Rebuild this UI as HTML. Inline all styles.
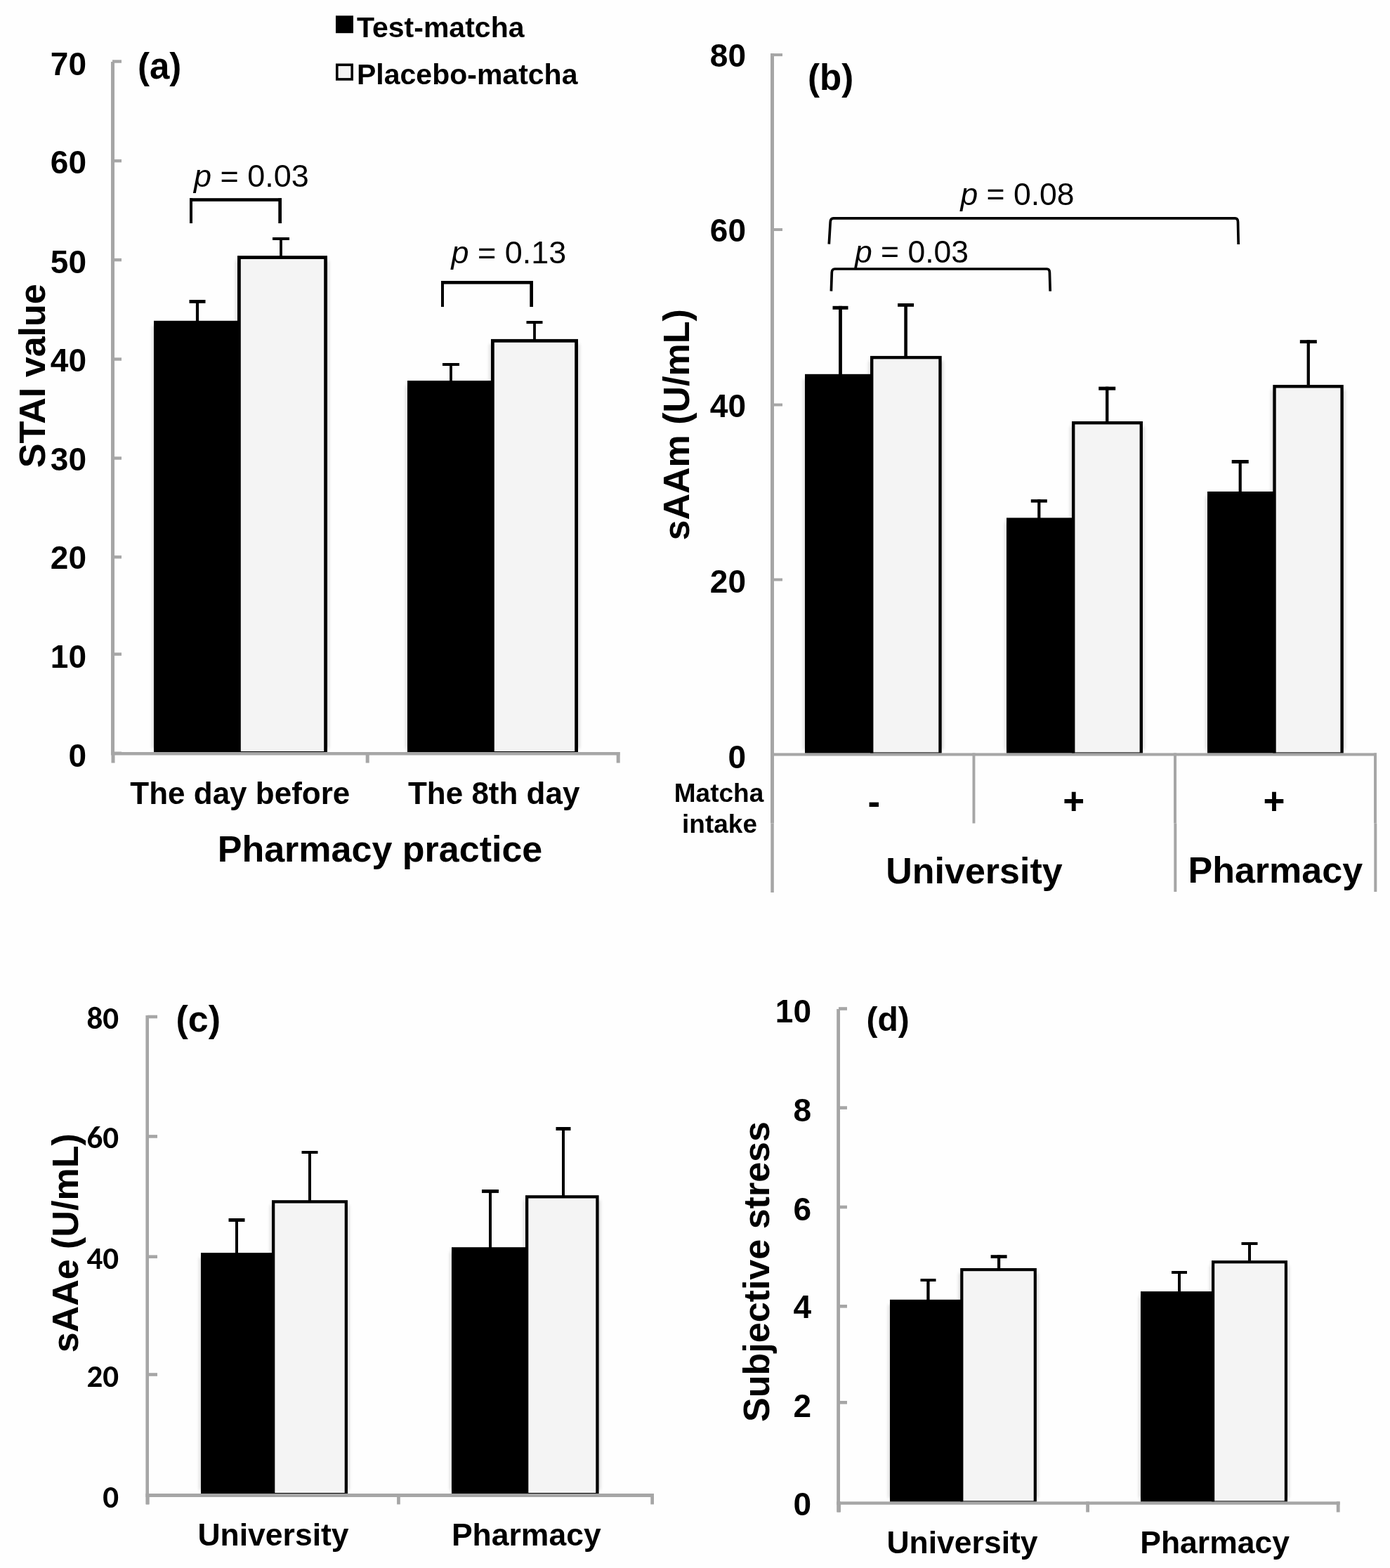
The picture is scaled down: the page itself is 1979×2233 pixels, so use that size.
<!DOCTYPE html>
<html><head><meta charset="utf-8"><title>Figure</title>
<style>
html,body{margin:0;padding:0;background:#fefefe;}
svg{display:block;}
text{fill:#000;}
</style></head>
<body>
<svg width="1979" height="2233" viewBox="0 0 1979 2233">
<defs><filter id="sh" x="-10%" y="-10%" width="120%" height="120%"><feGaussianBlur stdDeviation="2.2"/></filter></defs>
<rect x="0" y="0" width="1979" height="2233" fill="#fefefe"/>
<rect x="216.5" y="463.8" width="129.0" height="602.2" fill="#000" opacity="0.13" filter="url(#sh)"/>
<rect x="335.5" y="371.2" width="133.0" height="694.8" fill="#000" opacity="0.13" filter="url(#sh)"/>
<rect x="577.5" y="549.1" width="129.0" height="516.9" fill="#000" opacity="0.13" filter="url(#sh)"/>
<rect x="696.5" y="489.9" width="129.0" height="576.1" fill="#000" opacity="0.13" filter="url(#sh)"/>
<rect x="1143.5" y="539.8" width="102.5" height="527.6" fill="#000" opacity="0.13" filter="url(#sh)"/>
<rect x="1236.5" y="513.9" width="106.7" height="553.5" fill="#000" opacity="0.13" filter="url(#sh)"/>
<rect x="1430.5" y="744.4" width="102.0" height="323.0" fill="#000" opacity="0.13" filter="url(#sh)"/>
<rect x="1523.5" y="607.0" width="106.0" height="460.4" fill="#000" opacity="0.13" filter="url(#sh)"/>
<rect x="1716.5" y="707.0" width="102.6" height="360.4" fill="#000" opacity="0.13" filter="url(#sh)"/>
<rect x="1809.8" y="555.1" width="105.5" height="512.3" fill="#000" opacity="0.13" filter="url(#sh)"/>
<rect x="283.5" y="1791.1" width="109.0" height="330.9" fill="#000" opacity="0.13" filter="url(#sh)"/>
<rect x="384.5" y="1716.2" width="113.0" height="405.8" fill="#000" opacity="0.13" filter="url(#sh)"/>
<rect x="640.5" y="1783.2" width="114.0" height="338.8" fill="#000" opacity="0.13" filter="url(#sh)"/>
<rect x="745.5" y="1709.2" width="109.6" height="412.8" fill="#000" opacity="0.13" filter="url(#sh)"/>
<rect x="1264.5" y="1857.8" width="109.0" height="275.6" fill="#000" opacity="0.13" filter="url(#sh)"/>
<rect x="1364.7" y="1813.0" width="113.7" height="320.4" fill="#000" opacity="0.13" filter="url(#sh)"/>
<rect x="1621.5" y="1846.1" width="110.0" height="287.3" fill="#000" opacity="0.13" filter="url(#sh)"/>
<rect x="1722.5" y="1802.1" width="113.0" height="331.3" fill="#000" opacity="0.13" filter="url(#sh)"/>
<rect x="158.0" y="88.0" width="5.0" height="986.0" fill="#a6a6a6"/>
<rect x="160.0" y="1070.5" width="13.0" height="4.4" fill="#a6a6a6"/>
<text x="123.0" y="1092.2" font-size="46" font-weight="bold" text-anchor="end" font-family='"Liberation Sans", Arial, sans-serif' >0</text>
<rect x="160.0" y="929.4" width="13.0" height="4.4" fill="#a6a6a6"/>
<text x="123.0" y="950.8" font-size="46" font-weight="bold" text-anchor="end" font-family='"Liberation Sans", Arial, sans-serif' >10</text>
<rect x="160.0" y="791.1" width="13.0" height="4.4" fill="#a6a6a6"/>
<text x="123.0" y="810.3" font-size="46" font-weight="bold" text-anchor="end" font-family='"Liberation Sans", Arial, sans-serif' >20</text>
<rect x="160.0" y="650.3" width="13.0" height="4.4" fill="#a6a6a6"/>
<text x="123.0" y="670.3" font-size="46" font-weight="bold" text-anchor="end" font-family='"Liberation Sans", Arial, sans-serif' >30</text>
<rect x="160.0" y="509.3" width="13.0" height="4.4" fill="#a6a6a6"/>
<text x="123.0" y="528.8" font-size="46" font-weight="bold" text-anchor="end" font-family='"Liberation Sans", Arial, sans-serif' >40</text>
<rect x="160.0" y="367.9" width="13.0" height="4.4" fill="#a6a6a6"/>
<text x="123.0" y="389.1" font-size="46" font-weight="bold" text-anchor="end" font-family='"Liberation Sans", Arial, sans-serif' >50</text>
<rect x="160.0" y="226.9" width="13.0" height="4.4" fill="#a6a6a6"/>
<text x="123.0" y="247.2" font-size="46" font-weight="bold" text-anchor="end" font-family='"Liberation Sans", Arial, sans-serif' >60</text>
<rect x="160.0" y="85.3" width="13.0" height="4.4" fill="#a6a6a6"/>
<text x="123.0" y="106.8" font-size="46" font-weight="bold" text-anchor="end" font-family='"Liberation Sans", Arial, sans-serif' >70</text>
<rect x="158.0" y="1071.0" width="724.5" height="4.5" fill="#a6a6a6"/>
<rect x="158.5" y="1071.0" width="5.0" height="15.5" fill="#a6a6a6"/>
<rect x="520.7" y="1071.0" width="5.0" height="15.5" fill="#a6a6a6"/>
<rect x="877.7" y="1071.0" width="5.0" height="15.5" fill="#a6a6a6"/>
<rect x="219.0" y="456.8" width="124.0" height="614.2" fill="#000"/>
<rect x="338.0" y="364.2" width="128.0" height="706.8" fill="#000"/>
<rect x="342.8" y="369.0" width="118.4" height="701.0" fill="#f4f4f4"/>
<rect x="278.9" y="427.0" width="4.2" height="30.5" fill="#000"/>
<rect x="269.5" y="427.0" width="23.0" height="4.8" fill="#000"/>
<rect x="398.1" y="338.0" width="3.8" height="27.0" fill="#000"/>
<rect x="388.0" y="338.0" width="24.0" height="4.0" fill="#000"/>
<rect x="580.0" y="542.1" width="124.0" height="528.9" fill="#000"/>
<rect x="699.0" y="482.9" width="124.0" height="588.1" fill="#000"/>
<rect x="703.8" y="487.7" width="114.4" height="582.3" fill="#f4f4f4"/>
<rect x="640.1" y="517.0" width="3.8" height="26.0" fill="#000"/>
<rect x="630.0" y="517.0" width="24.0" height="4.0" fill="#000"/>
<rect x="759.1" y="457.0" width="3.8" height="27.0" fill="#000"/>
<rect x="749.5" y="457.0" width="23.0" height="4.0" fill="#000"/>
<rect x="270.0" y="282.2" width="131.0" height="4.6" fill="#000"/>
<rect x="270.0" y="282.2" width="4.0" height="35.8" fill="#000"/>
<rect x="396.3" y="282.2" width="4.7" height="35.8" fill="#000"/>
<rect x="628.0" y="400.0" width="131.0" height="4.6" fill="#000"/>
<rect x="628.0" y="400.0" width="4.0" height="37.0" fill="#000"/>
<rect x="754.3" y="400.0" width="4.7" height="37.0" fill="#000"/>
<text x="276.0" y="265.8" font-size="45" font-family='"Liberation Sans", Arial, sans-serif'><tspan font-style="italic">p</tspan> = 0.03</text>
<text x="642.5" y="374.5" font-size="45" font-family='"Liberation Sans", Arial, sans-serif'><tspan font-style="italic">p</tspan> = 0.13</text>
<text x="196.0" y="112.0" font-size="51" font-weight="bold" text-anchor="start" font-family='"Liberation Sans", Arial, sans-serif' >(a)</text>
<rect x="478.0" y="22.3" width="25.0" height="24.9" fill="#000"/>
<rect x="478.0" y="90.5" width="25.0" height="24.2" fill="#000"/>
<rect x="481.6" y="94.1" width="17.8" height="17.0" fill="#f4f4f4"/>
<text x="508.0" y="52.7" font-size="41" font-weight="bold" text-anchor="start" font-family='"Liberation Sans", Arial, sans-serif' >Test-matcha</text>
<text x="508.0" y="120.3" font-size="41" font-weight="bold" text-anchor="start" font-family='"Liberation Sans", Arial, sans-serif' >Placebo-matcha</text>
<text transform="translate(64.2,535.3) rotate(-90)" font-size="52" font-weight="bold" text-anchor="middle" font-family='"Liberation Sans", Arial, sans-serif'>STAI value</text>
<text x="341.8" y="1144.5" font-size="44" font-weight="bold" text-anchor="middle" font-family='"Liberation Sans", Arial, sans-serif' >The day before</text>
<text x="703.2" y="1144.5" font-size="44" font-weight="bold" text-anchor="middle" font-family='"Liberation Sans", Arial, sans-serif' >The 8th day</text>
<text x="541.0" y="1227.0" font-size="52" font-weight="bold" text-anchor="middle" font-family='"Liberation Sans", Arial, sans-serif' >Pharmacy practice</text>
<rect x="1097.0" y="76.0" width="5.0" height="1096.5" fill="#a6a6a6"/>
<rect x="1097.3" y="1172.5" width="4.5" height="98.5" fill="#a6a6a6"/>
<text x="1062.0" y="1094.3" font-size="46" font-weight="bold" text-anchor="end" font-family='"Liberation Sans", Arial, sans-serif' >0</text>
<rect x="1100.0" y="823.5" width="14.0" height="4.0" fill="#a6a6a6"/>
<text x="1062.0" y="844.1" font-size="46" font-weight="bold" text-anchor="end" font-family='"Liberation Sans", Arial, sans-serif' >20</text>
<rect x="1100.0" y="574.5" width="14.0" height="4.0" fill="#a6a6a6"/>
<text x="1062.0" y="594.0" font-size="46" font-weight="bold" text-anchor="end" font-family='"Liberation Sans", Arial, sans-serif' >40</text>
<rect x="1100.0" y="325.0" width="14.0" height="4.0" fill="#a6a6a6"/>
<text x="1062.0" y="343.7" font-size="46" font-weight="bold" text-anchor="end" font-family='"Liberation Sans", Arial, sans-serif' >60</text>
<rect x="1100.0" y="76.1" width="14.0" height="4.0" fill="#a6a6a6"/>
<text x="1062.0" y="94.7" font-size="46" font-weight="bold" text-anchor="end" font-family='"Liberation Sans", Arial, sans-serif' >80</text>
<rect x="1100.0" y="1072.4" width="860.0" height="4.1" fill="#a6a6a6"/>
<rect x="1384.5" y="1072.4" width="3.9" height="100.1" fill="#a6a6a6"/>
<rect x="1671.0" y="1072.4" width="4.0" height="100.1" fill="#a6a6a6"/>
<rect x="1671.3" y="1172.5" width="4.0" height="97.5" fill="#a6a6a6"/>
<rect x="1956.0" y="1072.4" width="4.0" height="100.1" fill="#a6a6a6"/>
<rect x="1956.3" y="1172.5" width="4.0" height="97.5" fill="#a6a6a6"/>
<rect x="1146.0" y="532.8" width="97.5" height="539.6" fill="#000"/>
<rect x="1239.0" y="506.9" width="101.7" height="565.5" fill="#000"/>
<rect x="1243.4" y="511.3" width="92.9" height="560.1" fill="#f4f4f4"/>
<rect x="1433.0" y="737.4" width="97.0" height="335.0" fill="#000"/>
<rect x="1526.0" y="600.0" width="101.0" height="472.4" fill="#000"/>
<rect x="1530.4" y="604.4" width="92.2" height="467.0" fill="#f4f4f4"/>
<rect x="1719.0" y="700.0" width="97.6" height="372.4" fill="#000"/>
<rect x="1812.3" y="548.1" width="100.5" height="524.3" fill="#000"/>
<rect x="1816.7" y="552.5" width="91.7" height="518.9" fill="#f4f4f4"/>
<rect x="1194.1" y="435.8" width="4.8" height="97.7" fill="#000"/>
<rect x="1185.5" y="435.8" width="22.0" height="5.0" fill="#000"/>
<rect x="1287.3" y="432.0" width="4.6" height="75.5" fill="#000"/>
<rect x="1278.1" y="432.0" width="23.0" height="4.8" fill="#000"/>
<rect x="1477.2" y="711.2" width="4.2" height="26.8" fill="#000"/>
<rect x="1467.8" y="711.2" width="23.0" height="4.5" fill="#000"/>
<rect x="1574.0" y="550.7" width="4.4" height="49.8" fill="#000"/>
<rect x="1564.2" y="550.7" width="24.0" height="5.0" fill="#000"/>
<rect x="1763.6" y="655.0" width="4.2" height="45.5" fill="#000"/>
<rect x="1753.7" y="655.0" width="24.0" height="5.0" fill="#000"/>
<rect x="1860.6" y="484.2" width="4.3" height="64.3" fill="#000"/>
<rect x="1850.8" y="484.2" width="24.0" height="4.8" fill="#000"/>
<path d="M1180.3,347.6 L1182.2,316 Q1182.6,310.9 1186.5,310.9 L1758.5,310.9 Q1762.3,310.9 1762.5,316 L1763.2,348" fill="none" stroke="#000" stroke-width="3.7"/>
<path d="M1183.4,414.6 L1184.3,388 Q1184.6,383 1188.5,383 L1490.5,383 Q1494.2,383 1494.4,388 L1495.2,414.7" fill="none" stroke="#000" stroke-width="3.7"/>
<text x="1367.5" y="291.8" font-size="44.5" font-family='"Liberation Sans", Arial, sans-serif'><tspan font-style="italic">p</tspan> = 0.08</text>
<text x="1217.0" y="373.8" font-size="44.5" font-family='"Liberation Sans", Arial, sans-serif'><tspan font-style="italic">p</tspan> = 0.03</text>
<text x="1150.0" y="127.5" font-size="51" font-weight="bold" text-anchor="start" font-family='"Liberation Sans", Arial, sans-serif' >(b)</text>
<text transform="translate(980.7,604.8) rotate(-90)" font-size="52" font-weight="bold" text-anchor="middle" font-family='"Liberation Sans", Arial, sans-serif'>sAAm (U/mL)</text>
<text x="1023.5" y="1142.0" font-size="37" font-weight="bold" text-anchor="middle" font-family='"Liberation Sans", Arial, sans-serif' >Matcha</text>
<text x="1024.5" y="1185.8" font-size="37" font-weight="bold" text-anchor="middle" font-family='"Liberation Sans", Arial, sans-serif' >intake</text>
<text x="1244.3" y="1160.0" font-size="53" font-weight="bold" text-anchor="middle" font-family='"Liberation Sans", Arial, sans-serif' >-</text>
<text x="1528.8" y="1158.5" font-size="53" font-weight="bold" text-anchor="middle" font-family='"Liberation Sans", Arial, sans-serif' >+</text>
<text x="1814.0" y="1158.5" font-size="53" font-weight="bold" text-anchor="middle" font-family='"Liberation Sans", Arial, sans-serif' >+</text>
<text x="1387.0" y="1257.9" font-size="52" font-weight="bold" text-anchor="middle" font-family='"Liberation Sans", Arial, sans-serif' >University</text>
<text x="1815.8" y="1256.6" font-size="52" font-weight="bold" text-anchor="middle" font-family='"Liberation Sans", Arial, sans-serif' >Pharmacy</text>
<rect x="207.4" y="1446.0" width="4.6" height="696.4" fill="#a6a6a6"/>
<text x="169.0" y="2146.5" font-size="45" font-weight="bold" text-anchor="end" font-family='Carlito, "Liberation Sans", sans-serif' >0</text>
<rect x="210.0" y="1955.2" width="14.0" height="4.6" fill="#a6a6a6"/>
<text x="169.0" y="1974.5" font-size="45" font-weight="bold" text-anchor="end" font-family='Carlito, "Liberation Sans", sans-serif' >20</text>
<rect x="210.0" y="1787.4" width="14.0" height="4.6" fill="#a6a6a6"/>
<text x="169.0" y="1806.7" font-size="45" font-weight="bold" text-anchor="end" font-family='Carlito, "Liberation Sans", sans-serif' >40</text>
<rect x="210.0" y="1616.1" width="14.0" height="4.6" fill="#a6a6a6"/>
<text x="169.0" y="1635.4" font-size="45" font-weight="bold" text-anchor="end" font-family='Carlito, "Liberation Sans", sans-serif' >60</text>
<rect x="210.0" y="1445.7" width="14.0" height="4.6" fill="#a6a6a6"/>
<text x="169.0" y="1465.0" font-size="45" font-weight="bold" text-anchor="end" font-family='Carlito, "Liberation Sans", sans-serif' >80</text>
<rect x="207.4" y="2127.0" width="723.6" height="5.0" fill="#a6a6a6"/>
<rect x="208.0" y="2127.0" width="4.7" height="15.4" fill="#a6a6a6"/>
<rect x="565.1" y="2127.0" width="4.7" height="15.4" fill="#a6a6a6"/>
<rect x="926.3" y="2127.0" width="4.7" height="15.4" fill="#a6a6a6"/>
<rect x="286.0" y="1784.1" width="104.0" height="342.9" fill="#000"/>
<rect x="387.0" y="1709.2" width="108.0" height="417.8" fill="#000"/>
<rect x="391.3" y="1713.5" width="99.4" height="412.5" fill="#f4f4f4"/>
<rect x="643.0" y="1776.2" width="109.0" height="350.8" fill="#000"/>
<rect x="748.0" y="1702.2" width="104.6" height="424.8" fill="#000"/>
<rect x="752.3" y="1706.5" width="96.0" height="419.5" fill="#f4f4f4"/>
<rect x="335.0" y="1735.0" width="4.0" height="50.0" fill="#000"/>
<rect x="325.5" y="1735.0" width="23.0" height="4.9" fill="#000"/>
<rect x="439.0" y="1639.0" width="4.0" height="71.0" fill="#000"/>
<rect x="429.5" y="1639.0" width="23.0" height="4.0" fill="#000"/>
<rect x="696.0" y="1694.0" width="4.0" height="83.0" fill="#000"/>
<rect x="686.0" y="1694.0" width="24.0" height="4.9" fill="#000"/>
<rect x="800.0" y="1605.0" width="4.0" height="98.0" fill="#000"/>
<rect x="791.5" y="1605.0" width="21.0" height="4.9" fill="#000"/>
<text x="250.5" y="1468.5" font-size="52" font-weight="bold" text-anchor="start" font-family='"Liberation Sans", Arial, sans-serif' >(c)</text>
<text transform="translate(111.4,1770.3) rotate(-90)" font-size="52" font-weight="bold" text-anchor="middle" font-family='"Liberation Sans", Arial, sans-serif'>sAAe (U/mL)</text>
<text x="389.0" y="2201.1" font-size="44.5" font-weight="bold" text-anchor="middle" font-family='"Liberation Sans", Arial, sans-serif' >University</text>
<text x="749.3" y="2201.1" font-size="44.5" font-weight="bold" text-anchor="middle" font-family='"Liberation Sans", Arial, sans-serif' >Pharmacy</text>
<rect x="1191.2" y="1437.0" width="4.8" height="716.5" fill="#a6a6a6"/>
<text x="1155.0" y="2157.7" font-size="46" font-weight="bold" text-anchor="end" font-family='"Liberation Sans", Arial, sans-serif' >0</text>
<rect x="1194.0" y="1995.0" width="12.0" height="4.6" fill="#a6a6a6"/>
<text x="1155.0" y="2017.7" font-size="46" font-weight="bold" text-anchor="end" font-family='"Liberation Sans", Arial, sans-serif' >2</text>
<rect x="1194.0" y="1858.0" width="12.0" height="4.6" fill="#a6a6a6"/>
<text x="1155.0" y="1877.3" font-size="46" font-weight="bold" text-anchor="end" font-family='"Liberation Sans", Arial, sans-serif' >4</text>
<rect x="1194.0" y="1716.7" width="12.0" height="4.6" fill="#a6a6a6"/>
<text x="1155.0" y="1737.8" font-size="46" font-weight="bold" text-anchor="end" font-family='"Liberation Sans", Arial, sans-serif' >6</text>
<rect x="1194.0" y="1575.3" width="12.0" height="4.6" fill="#a6a6a6"/>
<text x="1155.0" y="1597.3" font-size="46" font-weight="bold" text-anchor="end" font-family='"Liberation Sans", Arial, sans-serif' >8</text>
<rect x="1194.0" y="1434.2" width="12.0" height="4.6" fill="#a6a6a6"/>
<text x="1155.0" y="1455.7" font-size="46" font-weight="bold" text-anchor="end" font-family='"Liberation Sans", Arial, sans-serif' >10</text>
<rect x="1191.2" y="2138.4" width="716.5" height="4.4" fill="#a6a6a6"/>
<rect x="1192.2" y="2138.4" width="4.8" height="15.1" fill="#a6a6a6"/>
<rect x="1546.2" y="2138.4" width="4.8" height="15.1" fill="#a6a6a6"/>
<rect x="1902.8" y="2138.4" width="4.8" height="15.1" fill="#a6a6a6"/>
<rect x="1267.0" y="1850.8" width="104.0" height="287.6" fill="#000"/>
<rect x="1367.2" y="1806.0" width="108.7" height="332.4" fill="#000"/>
<rect x="1371.4" y="1810.2" width="100.3" height="327.2" fill="#f4f4f4"/>
<rect x="1624.0" y="1839.1" width="105.0" height="299.3" fill="#000"/>
<rect x="1725.0" y="1795.1" width="108.0" height="343.3" fill="#000"/>
<rect x="1729.2" y="1799.3" width="99.6" height="338.1" fill="#f4f4f4"/>
<rect x="1319.3" y="1821.0" width="4.3" height="30.5" fill="#000"/>
<rect x="1310.5" y="1821.0" width="22.0" height="4.0" fill="#000"/>
<rect x="1420.0" y="1787.2" width="4.2" height="19.3" fill="#000"/>
<rect x="1410.6" y="1787.2" width="23.0" height="4.7" fill="#000"/>
<rect x="1677.0" y="1810.0" width="4.0" height="29.5" fill="#000"/>
<rect x="1668.0" y="1810.0" width="22.0" height="4.0" fill="#000"/>
<rect x="1777.0" y="1769.0" width="4.0" height="26.5" fill="#000"/>
<rect x="1767.5" y="1769.0" width="23.0" height="4.0" fill="#000"/>
<text x="1233.5" y="1468.0" font-size="48" font-weight="bold" text-anchor="start" font-family='"Liberation Sans", Arial, sans-serif' >(d)</text>
<text transform="translate(1095.1,1811.0) rotate(-90)" font-size="52" font-weight="bold" text-anchor="middle" font-family='"Liberation Sans", Arial, sans-serif'>Subjective stress</text>
<text x="1370.0" y="2211.7" font-size="44.5" font-weight="bold" text-anchor="middle" font-family='"Liberation Sans", Arial, sans-serif' >University</text>
<text x="1729.6" y="2212.0" font-size="44.5" font-weight="bold" text-anchor="middle" font-family='"Liberation Sans", Arial, sans-serif' >Pharmacy</text>
</svg>
</body></html>
